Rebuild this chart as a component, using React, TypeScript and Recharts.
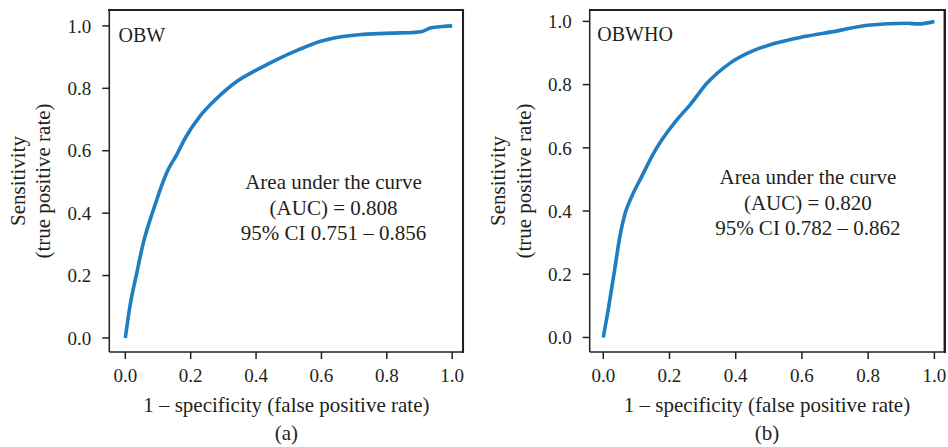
import { LineChart, Line, XAxis, YAxis, ReferenceDot, ReferenceLine } from "recharts";

const X_TICKS = [0, 0.2, 0.4, 0.6, 0.8, 1.0];
const Y_TICKS = [0, 0.2, 0.4, 0.6, 0.8, 1.0];

// panel (a): OBW
const OBW_FPR = [0, 0.014, 0.035, 0.055, 0.086, 0.128, 0.157, 0.183, 0.228, 0.28, 0.341, 0.402, 0.473, 0.529, 0.595, 0.646, 0.728, 0.82, 0.88, 0.905, 0.935, 0.97, 1.0];
const OBW_TPR = [0, 0.101, 0.208, 0.304, 0.411, 0.533, 0.587, 0.64, 0.71, 0.768, 0.822, 0.859, 0.897, 0.923, 0.95, 0.963, 0.973, 0.977, 0.979, 0.981, 0.994, 0.998, 1.0];

// panel (b): OBWHO
const OBWHO_FPR = [0, 0.015, 0.035, 0.05, 0.066, 0.086, 0.116, 0.156, 0.222, 0.262, 0.313, 0.383, 0.446, 0.516, 0.607, 0.708, 0.798, 0.919, 0.95, 1.0];
const OBWHO_TPR = [0, 0.088, 0.219, 0.319, 0.393, 0.446, 0.509, 0.59, 0.688, 0.736, 0.804, 0.868, 0.904, 0.93, 0.952, 0.97, 0.988, 0.994, 0.992, 1.0];

const OBW_AUC = ["Area under the curve", "(AUC) = 0.808", "95% CI 0.751 – 0.856"];
const OBWHO_AUC = ["Area under the curve", "(AUC) = 0.820", "95% CI 0.782 – 0.862"];

const FONT = "'Liberation Serif', 'Times New Roman', serif";
const INK = "#231f20";
const BLUE = "#1f7dc2";

const W = 474;
const H = 447;
const TOP = 10;
const X_AXIS_H = 95;
const FRAME_W = 1.5;

const fmt = (v: number) => v.toFixed(1);

function XTitle({ viewBox, caption }: any) {
  const cx = viewBox.x + viewBox.width / 2;
  const y = viewBox.y;
  return (
    <g fontFamily={FONT} fontSize={21} fill={INK}>
      <text x={cx} y={y + 60} textAnchor="middle">
        1 – specificity (false positive rate)
      </text>
      <text x={cx} y={y + 88} textAnchor="middle">
        {caption}
      </text>
    </g>
  );
}

function YTitle({ viewBox }: any) {
  const right = viewBox.x + viewBox.width;
  const cy = viewBox.y + viewBox.height / 2;
  const b1 = right - 84.5;
  const b2 = right - 59;
  return (
    <g fontFamily={FONT} fontSize={21} fill={INK}>
      <text x={b1} y={cy} textAnchor="middle" transform={`rotate(-90, ${b1}, ${cy})`}>
        Sensitivity
      </text>
      <text x={b2} y={cy} textAnchor="middle" transform={`rotate(-90, ${b2}, ${cy})`}>
        (true positive rate)
      </text>
    </g>
  );
}

function NameLabel({ viewBox, text }: any) {
  const x = viewBox.x + viewBox.width / 2;
  const y = viewBox.y + viewBox.height / 2;
  return (
    <text x={x} y={y} fontFamily={FONT} fontSize={20} fill={INK}>
      {text}
    </text>
  );
}

function AucLabel({ viewBox, lines }: any) {
  const x = viewBox.x + viewBox.width / 2;
  const y = viewBox.y + viewBox.height / 2;
  return (
    <text x={x} y={y} textAnchor="middle" fontFamily={FONT} fontSize={21} fill={INK}>
      {lines.map((l: string, i: number) => (
        <tspan key={i} x={x} y={y + (i - 1) * 25.5}>
          {l}
        </tspan>
      ))}
    </text>
  );
}

type PanelProps = {
  name: string;
  caption: string;
  fpr: number[];
  tpr: number[];
  auc: string[];
  left: number;
  yAxisWidth: number;
  marginRight: number;
  xDomain: [number, number];
  yDomain: [number, number];
  namePos: [number, number];
  aucPos: [number, number];
};

function RocPanel(p: PanelProps) {
  const data = p.fpr.map((x, i) => ({ fpr: x, tpr: p.tpr[i] }));
  const tickStyle = { fill: INK, fontSize: 19, fontFamily: FONT };
  const lineStyle = { stroke: INK, strokeWidth: FRAME_W };
  const plotW = W - p.yAxisWidth - p.marginRight;
  const plotH = H - TOP - X_AXIS_H;
  return (
    <div style={{ position: "absolute", left: p.left, top: 0, width: W, height: H }}>
      <LineChart
        width={W}
        height={H}
        data={data}
        margin={{ top: TOP, right: p.marginRight, bottom: 0, left: 0 }}
      >
        <XAxis
          dataKey="fpr"
          type="number"
          domain={p.xDomain}
          allowDataOverflow
          ticks={X_TICKS}
          tickFormatter={fmt}
          tickSize={7}
          tickMargin={10}
          height={X_AXIS_H}
          axisLine={lineStyle}
          tickLine={lineStyle}
          tick={tickStyle}
          label={<XTitle caption={p.caption} />}
        />
        <YAxis
          type="number"
          domain={p.yDomain}
          allowDataOverflow
          ticks={Y_TICKS}
          tickFormatter={fmt}
          tickSize={7}
          tickMargin={11}
          width={p.yAxisWidth}
          axisLine={lineStyle}
          tickLine={lineStyle}
          tick={tickStyle}
          label={<YTitle />}
        />
        {/* top and right sides of the frame */}
        <ReferenceLine y={p.yDomain[1]} stroke={INK} strokeWidth={FRAME_W} ifOverflow="extendDomain" />
        <ReferenceLine x={p.xDomain[1]} stroke={INK} strokeWidth={FRAME_W} ifOverflow="extendDomain" />
        <Line
          type="monotone"
          dataKey="tpr"
          stroke={BLUE}
          strokeWidth={3.6}
          dot={false}
          activeDot={false}
          isAnimationActive={false}
        />
        <ReferenceDot
          x={p.namePos[0]}
          y={p.namePos[1]}
          r={0}
          fill="none"
          stroke="none"
          label={<NameLabel text={p.name} />}
        />
        <ReferenceDot
          x={p.aucPos[0]}
          y={p.aucPos[1]}
          r={0}
          fill="none"
          stroke="none"
          label={<AucLabel lines={p.auc} />}
        />
      </LineChart>
      {/* box around the plot area, in case the reference lines are dropped */}
      <div
        style={{
          position: "absolute",
          zIndex: 2,
          left: Math.round(p.yAxisWidth) - 1,
          top: TOP - 1,
          width: Math.round(plotW) + 2,
          height: Math.round(plotH) + 2,
          boxSizing: "border-box",
          borderTop: `2px solid ${INK}`,
          borderRight: `2px solid ${INK}`,
          pointerEvents: "none",
        }}
      />
    </div>
  );
}

export default function App() {
  return (
    <div style={{ position: "absolute", left: 0, top: 0, width: 948, height: 447, background: "#fff" }}>
      <RocPanel
        name="OBW"
        caption="(a)"
        fpr={OBW_FPR}
        tpr={OBW_TPR}
        auc={OBW_AUC}
        left={0}
        yAxisWidth={109.3}
        marginRight={10.7}
        xDomain={[-0.049, 1.034]}
        yDomain={[-0.045, 1.051]}
        namePos={[-0.021, 0.95]}
        aucPos={[0.637, 0.395]}
      />
      <RocPanel
        name="OBWHO"
        caption="(b)"
        fpr={OBWHO_FPR}
        tpr={OBWHO_TPR}
        auc={OBWHO_AUC}
        left={474}
        yAxisWidth={115.7}
        marginRight={3.7}
        xDomain={[-0.041, 1.03]}
        yDomain={[-0.046, 1.036]}
        namePos={[-0.018, 0.939]}
        aucPos={[0.618, 0.404]}
      />
    </div>
  );
}
